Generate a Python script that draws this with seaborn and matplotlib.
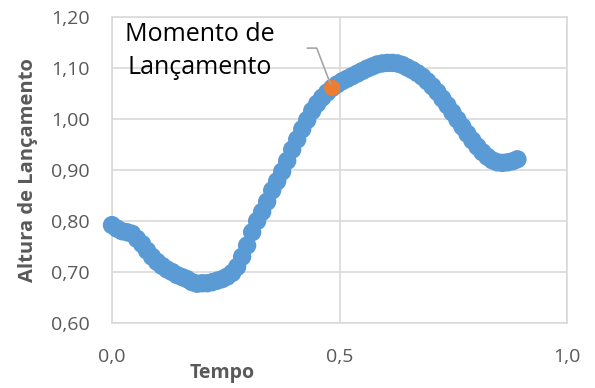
import matplotlib
matplotlib.use("Agg")
import matplotlib.pyplot as plt
import seaborn as sns
import pandas as pd

tempo = [0.000, 0.011, 0.022, 0.033, 0.044, 0.055, 0.066, 0.077, 0.088, 0.099,
         0.110, 0.121, 0.132, 0.143, 0.154, 0.165, 0.176, 0.187, 0.198, 0.209,
         0.220, 0.231, 0.242, 0.253, 0.264, 0.275, 0.286, 0.297, 0.308, 0.319,
         0.330, 0.341, 0.352, 0.363, 0.374, 0.385, 0.396, 0.407, 0.418, 0.429,
         0.440, 0.451, 0.462, 0.473, 0.484, 0.495, 0.506, 0.517, 0.528, 0.539,
         0.550, 0.561, 0.572, 0.583, 0.594, 0.605, 0.616, 0.627, 0.638, 0.649,
         0.660, 0.671, 0.682, 0.693, 0.704, 0.715, 0.726, 0.737, 0.748, 0.759,
         0.770, 0.781, 0.792, 0.803, 0.814, 0.825, 0.836, 0.847, 0.858, 0.869,
         0.880, 0.891]
altura = [0.792, 0.785, 0.780, 0.778, 0.775, 0.765, 0.755, 0.742, 0.730, 0.720,
          0.712, 0.705, 0.700, 0.694, 0.690, 0.686, 0.680, 0.677, 0.678, 0.678,
          0.680, 0.683, 0.686, 0.691, 0.698, 0.710, 0.730, 0.752, 0.778, 0.800,
          0.818, 0.838, 0.860, 0.878, 0.897, 0.918, 0.940, 0.960, 0.980, 0.998,
          1.016, 1.030, 1.042, 1.052, 1.061, 1.068, 1.074, 1.079, 1.084, 1.089,
          1.094, 1.099, 1.103, 1.107, 1.109, 1.110, 1.110, 1.109, 1.106, 1.101,
          1.096, 1.090, 1.083, 1.074, 1.064, 1.053, 1.040, 1.027, 1.013, 0.999,
          0.985, 0.971, 0.958, 0.946, 0.935, 0.926, 0.919, 0.915, 0.914, 0.915,
          0.917, 0.921]
lancamento_t = [0.484]
lancamento_y = [1.061]
anotacao = "Momento de\nLançamento"
x_ticks = [0.0, 0.5, 1.0]
x_tick_labels = ["0,0", "0,5", "1,0"]
y_ticks = [0.60, 0.70, 0.80, 0.90, 1.00, 1.10, 1.20]
y_tick_labels = ["0,60", "0,70", "0,80", "0,90", "1,00", "1,10", "1,20"]

sns.set_style("whitegrid", {"grid.color": "#D9D9D9", "axes.edgecolor": "#D9D9D9"})
plt.rcParams["font.family"] = ["Open Sans", "DejaVu Sans"]

fig = plt.figure(figsize=(5.95, 3.88), dpi=100)
ax = fig.add_axes([112 / 595, 1 - 323 / 388, 455 / 595, 306 / 388])

df = pd.DataFrame({"Tempo": tempo, "Altura": altura})
dl = pd.DataFrame({"Tempo": lancamento_t, "Altura": lancamento_y})
sns.scatterplot(data=df, x="Tempo", y="Altura", ax=ax, s=175, color="#5B9BD5",
                edgecolor="none", zorder=3, clip_on=False)
sns.scatterplot(data=dl, x="Tempo", y="Altura", ax=ax, s=135, color="#ED7D31",
                edgecolor="none", zorder=4, clip_on=False)

ax.set_xlim(0, 1.0)
ax.set_ylim(0.60, 1.20)
ax.set_xticks(x_ticks)
ax.set_xticklabels(x_tick_labels)
ax.set_yticks(y_ticks)
ax.set_yticklabels(y_tick_labels)
ax.tick_params(axis="both", length=0, labelsize=14, colors="#595959")
ax.tick_params(axis="y", pad=16)
ax.tick_params(axis="x", pad=18)
ax.grid(True, color="#D9D9D9", linewidth=1.2)
for sp in ax.spines.values():
    sp.set_color("#D9D9D9")
    sp.set_linewidth(1.2)
ax.set_xlabel("")
ax.set_ylabel("")

fig.text(222 / 595, 1 - 378 / 388, "Tempo", ha="center", va="baseline",
         fontsize=14, fontweight="bold", color="#595959")
fig.text(28 / 595, 1 - 170 / 388, "Altura de Lançamento", ha="center", va="center",
         rotation=90, fontsize=14.5, fontweight="bold", color="#595959")

ax.text(0.193, 1.133, anotacao, ha="center", va="center", fontsize=18,
        color="#000000", linespacing=1.4, zorder=5)
ax.annotate("", xy=(lancamento_t[0] - 0.004, lancamento_y[0] + 0.008),
            xytext=(0.429, 1.139), textcoords="data",
            arrowprops=dict(arrowstyle="-", color="#A6A6A6", lw=1.2,
                            connectionstyle="angle,angleA=0,angleB=111,rad=0",
                            shrinkA=0, shrinkB=0),
            zorder=5)

fig.savefig("out.png", dpi=100)
